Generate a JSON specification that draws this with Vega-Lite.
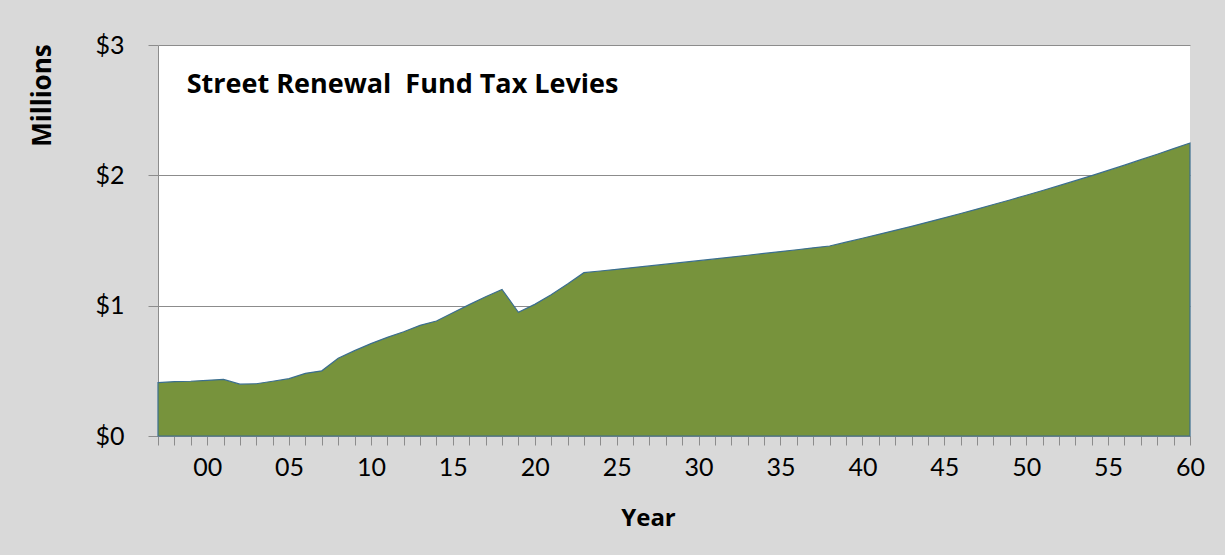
{
  "$schema": "https://vega.github.io/schema/vega-lite/v6.json",
  "width": 1032,
  "height": 391,
  "autosize": {"type": "none"},
  "padding": {"left": 158, "top": 45, "right": 35, "bottom": 119},
  "background": "#d9d9d9",
  "config": {
    "view": {"fill": "white", "stroke": null},
    "font": "Lato"
  },
  "data": {
    "values": [
      {"year": 1997, "levy": 0.41},
      {"year": 1998, "levy": 0.417},
      {"year": 1999, "levy": 0.42},
      {"year": 2000, "levy": 0.427},
      {"year": 2001, "levy": 0.434},
      {"year": 2002, "levy": 0.398},
      {"year": 2003, "levy": 0.401},
      {"year": 2004, "levy": 0.42},
      {"year": 2005, "levy": 0.44},
      {"year": 2006, "levy": 0.481},
      {"year": 2007, "levy": 0.5},
      {"year": 2008, "levy": 0.596},
      {"year": 2009, "levy": 0.655},
      {"year": 2010, "levy": 0.709},
      {"year": 2011, "levy": 0.757},
      {"year": 2012, "levy": 0.8},
      {"year": 2013, "levy": 0.849},
      {"year": 2014, "levy": 0.882},
      {"year": 2015, "levy": 0.945},
      {"year": 2016, "levy": 1.008},
      {"year": 2017, "levy": 1.069},
      {"year": 2018, "levy": 1.125},
      {"year": 2019, "levy": 0.949},
      {"year": 2020, "levy": 1.01},
      {"year": 2021, "levy": 1.084},
      {"year": 2022, "levy": 1.166},
      {"year": 2023, "levy": 1.253},
      {"year": 2024, "levy": 1.266},
      {"year": 2025, "levy": 1.279},
      {"year": 2026, "levy": 1.292},
      {"year": 2027, "levy": 1.305},
      {"year": 2028, "levy": 1.318},
      {"year": 2029, "levy": 1.332},
      {"year": 2030, "levy": 1.345},
      {"year": 2031, "levy": 1.359},
      {"year": 2032, "levy": 1.373},
      {"year": 2033, "levy": 1.387},
      {"year": 2034, "levy": 1.401},
      {"year": 2035, "levy": 1.415},
      {"year": 2036, "levy": 1.429},
      {"year": 2037, "levy": 1.444},
      {"year": 2038, "levy": 1.458},
      {"year": 2039, "levy": 1.487},
      {"year": 2040, "levy": 1.517},
      {"year": 2041, "levy": 1.547},
      {"year": 2042, "levy": 1.578},
      {"year": 2043, "levy": 1.609},
      {"year": 2044, "levy": 1.641},
      {"year": 2045, "levy": 1.674},
      {"year": 2046, "levy": 1.707},
      {"year": 2047, "levy": 1.741},
      {"year": 2048, "levy": 1.776},
      {"year": 2049, "levy": 1.811},
      {"year": 2050, "levy": 1.847},
      {"year": 2051, "levy": 1.884},
      {"year": 2052, "levy": 1.921},
      {"year": 2053, "levy": 1.959},
      {"year": 2054, "levy": 1.998},
      {"year": 2055, "levy": 2.038},
      {"year": 2056, "levy": 2.078},
      {"year": 2057, "levy": 2.12},
      {"year": 2058, "levy": 2.162},
      {"year": 2059, "levy": 2.205},
      {"year": 2060, "levy": 2.248}
    ]
  },
  "layer": [
    {
      "mark": {"type": "area", "color": "#77933c", "stroke": "#3b6e8f", "strokeWidth": 1.2},
      "encoding": {
        "x": {
          "field": "year",
          "type": "quantitative",
          "scale": {"domain": [1997, 2060], "nice": false, "zero": false},
          "axis": {
            "tickCount": 63,
            "labelExpr": "datum.value % 5 == 0 ? slice(format(datum.value, 'd'), 2) : ''",
            "labelOverlap": false,
            "labelFontSize": 25,
            "labelColor": "black",
            "labelPadding": 10,
            "labelFlush": false,
            "tickColor": "#8c8c8c",
            "tickSize": 9,
            "domainColor": "#8c8c8c",
            "grid": false,
            "title": "Year",
            "titleFont": "Open Sans",
            "titleFontSize": 24,
            "titleFontWeight": "bold",
            "titleColor": "black",
            "titleX": 490,
            "titleY": 89,
            "titleBaseline": "alphabetic"
          }
        },
        "y": {
          "field": "levy",
          "type": "quantitative",
          "scale": {"domain": [0, 3], "nice": false},
          "axis": {
            "values": [0, 1, 2, 3],
            "format": "$.0f",
            "labelFontSize": 25,
            "labelColor": "black",
            "labelPadding": 24,
            "tickColor": "#8c8c8c",
            "tickSize": 10,
            "domainColor": "#8c8c8c",
            "gridColor": "#8c8c8c",
            "gridOpacity": 1,
            "title": "Millions",
            "titleFont": "Open Sans",
            "titleFontSize": 26,
            "titleFontWeight": "bold",
            "titleColor": "black",
            "titleX": -116,
            "titleY": 50,
            "titleAngle": -90,
            "titleBaseline": "middle"
          }
        }
      }
    },
    {
      "data": {"values": [{"label": "Street Renewal\u00a0 Fund Tax Levies", "year": 1998.75, "levy": 2.634}]},
      "mark": {"type": "text", "align": "left", "baseline": "alphabetic", "fontSize": 27, "fontWeight": "bold", "color": "black", "font": "Open Sans"},
      "encoding": {
        "x": {"field": "year", "type": "quantitative"},
        "y": {"field": "levy", "type": "quantitative"},
        "text": {"field": "label"}
      }
    }
  ]
}
